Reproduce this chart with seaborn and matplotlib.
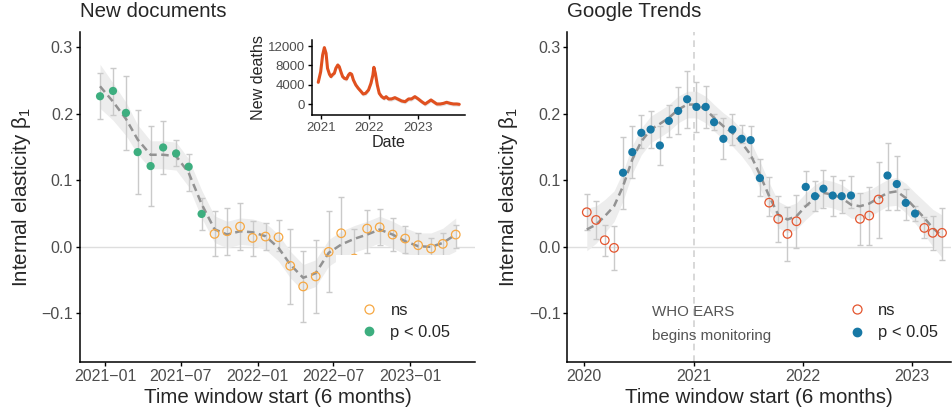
import pandas as pd
import matplotlib.pyplot as plt
import seaborn as sns
from matplotlib.lines import Line2D
from matplotlib.patches import Rectangle

# Style
sns.set_style("ticks")
plt.rcParams['font.family'] = ['Liberation Sans', 'DejaVu Sans']
plt.rcParams['mathtext.fontset'] = 'custom'
plt.rcParams['mathtext.rm'] = 'Liberation Sans'
plt.rcParams['mathtext.it'] = 'Liberation Sans'

# ---- Data: New documents (monthly windows) ----
docs_start = '2020-12-20'
docs_beta = [0.226, 0.234, 0.201, 0.142, 0.121, 0.149, 0.140, 0.120, 0.049,
             0.019, 0.023, 0.030, 0.013, 0.015, 0.014, -0.029, -0.060, -0.045,
             -0.008, 0.020, -0.018, 0.027, 0.029, 0.018, 0.012, 0.002, -0.003,
             0.004, 0.018]
docs_lo = [0.192, 0.198, 0.145, 0.079, 0.061, 0.109, 0.121, 0.084, 0.025,
           -0.0145, -0.012, -0.0045, -0.0135, -0.0055, -0.007, -0.086, -0.113, -0.100,
           -0.069, -0.035, -0.050, -0.010, 0.002, -0.007, -0.0095, -0.020, -0.025,
           -0.018, -0.002]
docs_hi = [0.261, 0.269, 0.256, 0.206, 0.182, 0.189, 0.160, 0.139, 0.073,
           0.053, 0.058, 0.065, 0.039, 0.035, 0.040, 0.027, -0.007, 0.0095,
           0.053, 0.075, 0.027, 0.055, 0.057, 0.043, 0.0305, 0.021, 0.013,
           0.020, 0.033]
docs_sig = [True] * 9 + [False] * 20
docs_trend = [0.241, 0.218, 0.192, 0.161, 0.138, 0.138, 0.136, 0.111, 0.064,
              0.026, 0.018, 0.023, 0.0215, 0.0155, -0.002, -0.027, -0.047, -0.040,
              -0.0095, 0.003, 0.0115, 0.018, 0.0256, 0.018, 0.008, 0.0005, -0.0005,
              0.0055, 0.018]
docs_se = [0.033, 0.028, 0.025, 0.022, 0.021, 0.021, 0.021, 0.021, 0.021,
           0.020, 0.020, 0.020, 0.020, 0.020, 0.020, 0.020, 0.020, 0.020,
           0.020, 0.020, 0.020, 0.020, 0.020, 0.020, 0.020, 0.020, 0.021,
           0.022, 0.025]

# ---- Data: Google Trends (monthly windows) ----
gt_start = '2020-01-10'
gt_beta = [0.0516, 0.040, 0.0095, -0.002, 0.111, 0.142, 0.171, 0.176, 0.152, 0.189,
           0.204, 0.2215, 0.210, 0.210, 0.187, 0.162, 0.176, 0.162, 0.160, 0.103,
           0.066, 0.0416, 0.019, 0.038, 0.0897, 0.0757, 0.087, 0.0767, 0.0757, 0.0767,
           0.0416, 0.0466, 0.0707, 0.1068, 0.094, 0.0657, 0.0496, 0.028, 0.0206, 0.0206]
gt_lo = [0.0245, 0.0116, -0.0135, -0.0346, 0.0567, 0.103, 0.148, 0.148, 0.122, 0.164,
         0.169, 0.179, 0.172, 0.178, 0.175, 0.131, 0.153, 0.156, 0.133, 0.0757,
         0.0466, 0.0065, -0.022, -0.002, 0.063, 0.053, 0.058, 0.0456, 0.0506, 0.058,
         0.003, 0.003, 0.013, 0.0556, 0.0556, 0.0406, 0.038, 0.013, -0.0045, -0.0196]
gt_hi = [0.0797, 0.0687, 0.033, 0.0305, 0.165, 0.181, 0.198, 0.2035, 0.182, 0.2135,
         0.240, 0.2636, 0.247, 0.241, 0.199, 0.1935, 0.1996, 0.183, 0.181, 0.132,
         0.104, 0.0767, 0.0597, 0.077, 0.113, 0.098, 0.1147, 0.1057, 0.0997, 0.1057,
         0.0807, 0.0897, 0.127, 0.156, 0.136, 0.0867, 0.0606, 0.0446, 0.0466, 0.058]
gt_sig = [False] * 4 + [True] * 16 + [False] * 4 + [True] * 6 + [False] * 3 + [True] * 4 + [False] * 3
gt_trend = [0.0256, 0.033, 0.0456, 0.0606, 0.0907, 0.131, 0.158, 0.176, 0.1845, 0.1935,
            0.206, 0.2135, 0.2135, 0.206, 0.1935, 0.181, 0.171, 0.156, 0.138, 0.108,
            0.0757, 0.048, 0.0406, 0.0456, 0.0606, 0.073, 0.0807, 0.078, 0.073, 0.063,
            0.0606, 0.0646, 0.073, 0.0807, 0.083, 0.073, 0.058, 0.043, 0.028, 0.0155]
gt_se = [0.032, 0.028, 0.025, 0.023, 0.022, 0.021, 0.020, 0.020, 0.020, 0.020,
         0.020, 0.020, 0.020, 0.020, 0.020, 0.020, 0.020, 0.020, 0.020, 0.020,
         0.020, 0.020, 0.020, 0.020, 0.020, 0.020, 0.020, 0.020, 0.020, 0.020,
         0.020, 0.020, 0.020, 0.020, 0.021, 0.022, 0.023, 0.025, 0.028, 0.032]

# ---- Data: inset, new deaths ----
death_year = [2020.95, 2021.0, 2021.04, 2021.075, 2021.11, 2021.14, 2021.18, 2021.21,
              2021.25, 2021.28, 2021.31, 2021.35, 2021.38, 2021.42, 2021.45, 2021.485,
              2021.53, 2021.57, 2021.6, 2021.635, 2021.67, 2021.72, 2021.77, 2021.83,
              2021.87, 2021.92, 2021.98, 2022.03, 2022.07, 2022.09, 2022.12, 2022.16,
              2022.2, 2022.25, 2022.3, 2022.34, 2022.39, 2022.45, 2022.52, 2022.59,
              2022.66, 2022.73, 2022.8, 2022.86, 2022.93, 2023.0, 2023.07, 2023.14,
              2023.21, 2023.26, 2023.31, 2023.38, 2023.45, 2023.52, 2023.58, 2023.65,
              2023.72, 2023.79, 2023.84]
death_count = [4490, 6700, 10160, 11680, 10500, 7390, 6150, 5670,
               6150, 6360, 7390, 8080, 7740, 6500, 5670, 5320,
               5180, 6010, 6360, 6150, 4980, 3940, 3250, 2560,
               2070, 2210, 2900, 4280, 6010, 7600, 6360, 3940,
               2210, 1520, 1170, 1520, 1040, 1040, 1310, 970,
               620, 480, 1040, 1040, 1520, 1040, 480, 0,
               480, 830, 480, 0, 0, 140, 350, 140,
               0, 0, -70]
death_band = 450


def make_frame(start, beta, lo, hi, sig, trend, se):
    df = pd.DataFrame({'beta': beta, 'lo': lo, 'hi': hi, 'sig': sig,
                       'trend': trend, 'se': se})
    df['date'] = pd.date_range(start, periods=len(df), freq=pd.DateOffset(months=1))
    return df


docs = make_frame(docs_start, docs_beta, docs_lo, docs_hi, docs_sig, docs_trend, docs_se)
gt = make_frame(gt_start, gt_beta, gt_lo, gt_hi, gt_sig, gt_trend, gt_se)

TICK_GRAY = '#4D4D4D'


def style_axis(ax, labelsize=11.5):
    sns.despine(ax=ax)
    for s in ['left', 'bottom']:
        ax.spines[s].set_linewidth(1.1)
        ax.spines[s].set_color('black')
    ax.tick_params(direction='out', length=3, width=1, color='black',
                   labelcolor=TICK_GRAY, labelsize=labelsize, pad=2)


def draw_panel(ax, df, c_sig, c_ns):
    ax.axhline(0, color='#DEDEDE', lw=1, zorder=0)
    ax.fill_between(df['date'], df['trend'] - df['se'], df['trend'] + df['se'],
                    color='#EDEDED', lw=0, zorder=1)
    ax.errorbar(df['date'], df['beta'], yerr=[df['beta'] - df['lo'], df['hi'] - df['beta']],
                fmt='none', ecolor='#CACACA', elinewidth=1, capsize=2.0, capthick=1, zorder=2)
    sns.lineplot(data=df, x='date', y='trend', ax=ax, color='#929292', lw=1.8, zorder=3)
    ax.lines[-1].set_dashes([3.0, 1.8])
    sns.scatterplot(data=df[~df['sig']], x='date', y='beta', ax=ax, marker='o', s=38,
                    facecolors='none', edgecolor=c_ns, linewidth=0.9, zorder=4)
    sns.scatterplot(data=df[df['sig']], x='date', y='beta', ax=ax, color=c_sig, s=35,
                    edgecolor='none', linewidth=0, zorder=4)
    ax.set_ylim(-0.1732, 0.3226)
    ax.set_yticks([-0.1, 0.0, 0.1, 0.2, 0.3])
    ax.set_yticklabels(['\u22120.1', '0.0', '0.1', '0.2', '0.3'])
    ax.set_xlabel('Time window start (6 months)', fontsize=14.8, labelpad=3)
    ax.set_ylabel(r'Internal elasticity $\beta_1$', fontsize=14.8, labelpad=6)
    style_axis(ax)


def add_legend(ax, c_sig, c_ns, box_x, box_top, leg_x, leg_y):
    ax.add_patch(Rectangle((box_x, 0.01), 1 - box_x, box_top - 0.01, transform=ax.transAxes,
                           facecolor='white', edgecolor='none', zorder=5))
    handles = [Line2D([], [], marker='o', ls='', mfc='none', mec=c_ns, ms=6.5, mew=0.9),
               Line2D([], [], marker='o', ls='', mfc=c_sig, mec=c_sig, ms=6)]
    leg = ax.legend(handles, ['ns', 'p < 0.05'], loc='center left',
                    bbox_to_anchor=(leg_x, leg_y), frameon=False, fontsize=11.9,
                    handlelength=1.0, handletextpad=0.8, labelspacing=0.45)
    leg.set_zorder(6)


fig = plt.figure(figsize=(9.53, 4.17), dpi=100)
ax1 = fig.add_axes([0.0839, 0.1326, 0.4145, 0.7906])
ax2 = fig.add_axes([0.5953, 0.1326, 0.4026, 0.7906])

# Left panel: New documents
draw_panel(ax1, docs, '#3DAE7F', '#F6A843')
ax1.set_xlim(pd.Timestamp('2020-11-02'), pd.Timestamp('2023-06-05'))
left_ticks = pd.to_datetime(['2021-01-01', '2021-07-01', '2022-01-01', '2022-07-01', '2023-01-01'])
ax1.set_xticks(left_ticks)
ax1.set_xticklabels([d.strftime('%Y\u2212%m') for d in left_ticks])
ax1.set_title('New documents', loc='left', fontsize=14.8, pad=11)
add_legend(ax1, '#3DAE7F', '#F6A843', 0.648, 0.3236, 0.673, 0.1226)

# Right panel: Google Trends
ax2.axvline(pd.Timestamp('2021-01-01'), color='#D2D2D2', lw=1.2, ls=(0, (4, 3)), zorder=0)
draw_panel(ax2, gt, '#1778A5', '#E4552E')
ax2.set_xlim(pd.Timestamp('2019-11-06'), pd.Timestamp('2023-05-10'))
right_ticks = pd.to_datetime(['2020-01-01', '2021-01-01', '2022-01-01', '2023-01-01'])
ax2.set_xticks(right_ticks)
ax2.set_xticklabels([d.strftime('%Y') for d in right_ticks])
ax2.set_title('Google Trends', loc='left', fontsize=14.8, pad=11)
ax2.text(pd.Timestamp('2020-08-15'), -0.0985, 'WHO EARS', color='#555555',
         fontsize=10.9, ha='left', va='center')
ax2.text(pd.Timestamp('2020-08-15'), -0.134, 'begins monitoring', color='#555555',
         fontsize=10.9, ha='left', va='center')
add_legend(ax2, '#1778A5', '#E4552E', 0.66, 0.284, 0.694, 0.1214)

# Inset: new deaths
ax_in = fig.add_axes([0.3277, 0.7242, 0.1602, 0.1799])
ax_in.fill_between(death_year, [v - death_band for v in death_count],
                   [v + death_band for v in death_count], color='#E6E6E6', lw=0)
sns.lineplot(x=death_year, y=death_count, ax=ax_in, color='#E0501F', lw=2.2)
ax_in.set_xlim(2020.828, 2023.957)
ax_in.set_ylim(-2280, 13260)
ax_in.set_xticks([2021, 2022, 2023])
ax_in.set_xticklabels(['2021', '2022', '2023'])
ax_in.set_yticks([0, 4000, 8000, 12000])
ax_in.set_yticklabels(['0', '4000', '8000', '12000'])
ax_in.set_xlabel('Date', fontsize=11.6, labelpad=1)
ax_in.set_ylabel('New deaths', fontsize=11.6, labelpad=2)
style_axis(ax_in, labelsize=9.5)

fig.savefig('out.png', dpi=100)
plt.close(fig)
